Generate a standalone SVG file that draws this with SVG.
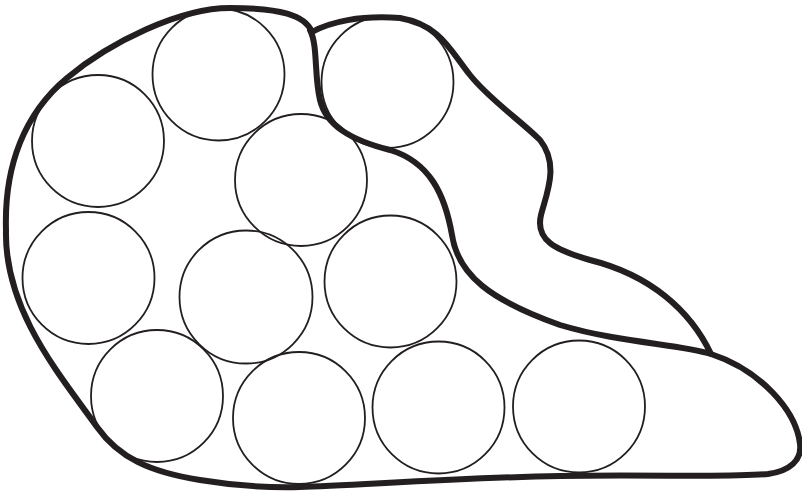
<svg xmlns="http://www.w3.org/2000/svg" width="802" height="494" viewBox="0 0 802 494">
<style>
.blob{fill:none;stroke:#231f20;stroke-width:6;stroke-linejoin:round;stroke-linecap:round}
.c{fill:none;stroke:#231f20;stroke-width:1.8}
</style>
<rect width="802" height="494" fill="#fff"/>
<g id="outline">
<path class="blob" d="M 312,32 C 305,15 280,8 230,8 C 180,8 110,42 67,78 C 25,113 4,165 6,230 C 4,310 60,375 97,427 C 119,458 150,472 200,480 C 230,485 260,488 300,487 C 350,486 450,478 560,476 C 650,474 730,478 768,474 C 790,471 802,460 800,444 C 796,410 760,370 711,354 C 690,310 650,275 590,260 C 555,250 535,240 541,215 C 546,195 560,165 540,140 C 520,120 490,100 470,75 C 450,50 440,25 400,18 C 360,15 330,22 312,32 Z"/>
<path class="blob" d="M 310,30 C 318,45 314,75 320,100 C 326,125 350,140 390,150 C 430,162 445,195 452,235 C 458,275 490,300 560,325 C 620,343 680,344 711,354"/>
</g>
<g id="circles">
<circle class="c" cx="218.5" cy="74.5" r="66"/>
<circle class="c" cx="387.5" cy="82" r="66"/>
<circle class="c" cx="98" cy="141" r="66"/>
<circle class="c" cx="301" cy="180" r="66"/>
<circle class="c" cx="88.5" cy="278" r="66"/>
<circle class="c" cx="246" cy="297" r="66.5"/>
<circle class="c" cx="390.5" cy="281.5" r="66"/>
<circle class="c" cx="157" cy="396" r="66"/>
<circle class="c" cx="299" cy="418" r="66"/>
<circle class="c" cx="438.5" cy="407.5" r="66"/>
<circle class="c" cx="579" cy="406.5" r="66"/>
</g>
</svg>
